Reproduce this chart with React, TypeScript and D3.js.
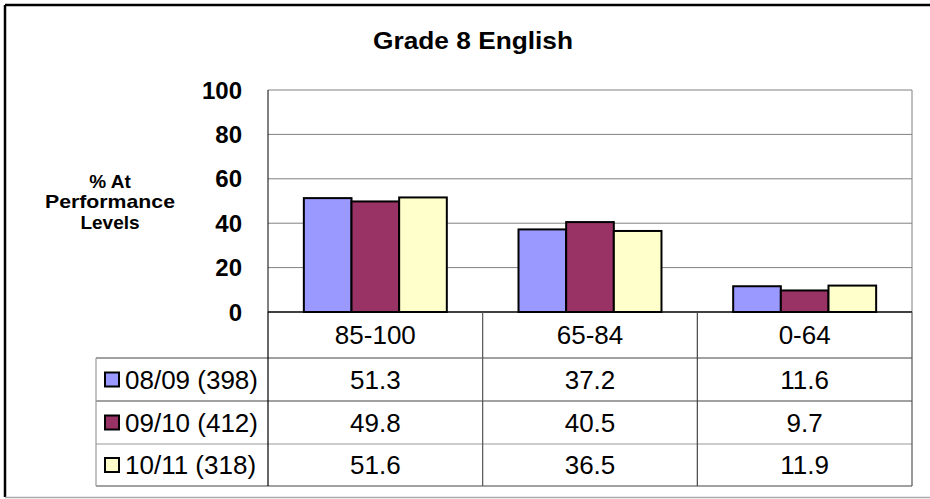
import * as d3 from 'd3'

// data
const categories = ['85-100', '65-84', '0-64']
const seriesNames = ['08/09 (398)', '09/10 (412)', '10/11 (318)']
const s0809 = [51.3, 37.2, 11.6]
const s0910 = [49.8, 40.5, 9.7]
const s1011 = [51.6, 36.5, 11.9]
const yTicks = [0, 20, 40, 60, 80, 100]
const colors = ['#9999ff', '#993366', '#ffffcc']

const W = 930
const H = 499
const font = 'Liberation Sans, Arial, sans-serif'

export default function App() {
  const series = [s0809, s0910, s1011]
  const plot = { left: 268, right: 912, top: 90, bottom: 312 }
  const rowH = [312, 358, 401, 444, 486]
  const tableLeft = 96

  const x0 = d3.scaleBand<string>().domain(categories).range([plot.left, plot.right]).padding(0)
  const bw = x0.bandwidth()
  const x1 = d3
    .scaleBand<string>()
    .domain(seriesNames)
    .range([bw * 0.167, bw * 0.833])
    .padding(0)
  const y = d3.scaleLinear().domain([0, 100]).range([plot.bottom, plot.top])

  return (
    <svg
      width={W}
      height={H}
      style={{ position: 'absolute', left: 0, top: 0, background: '#fff' }}
      fontFamily={font}
    >
      <rect x={0} y={0} width={W} height={H} fill="#fff" />
      {/* outer frame */}
      <line x1={5} y1={5} x2={930} y2={5} stroke="#000" strokeWidth={2.5} />
      <line x1={5} y1={5} x2={5} y2={497} stroke="#000" strokeWidth={2.5} />
      <line x1={5} y1={497.5} x2={930} y2={497.5} stroke="#aaa" strokeWidth={1.5} />

      <text x={473} y={49} textAnchor="middle" fontSize={24} fontWeight="bold" textLength={200} lengthAdjust="spacingAndGlyphs">
        Grade 8 English
      </text>

      {/* axis title */}
      <text x={110} y={188} textAnchor="middle" fontSize={19} fontWeight="bold">
        % At
      </text>
      <text x={110} y={208} textAnchor="middle" fontSize={19} fontWeight="bold" textLength={130} lengthAdjust="spacingAndGlyphs">
        Performance
      </text>
      <text x={110} y={229} textAnchor="middle" fontSize={19} fontWeight="bold">
        Levels
      </text>

      {/* grid + ticks */}
      {yTicks.map((t) => (
        <g key={t}>
          {t > 0 && (
            <line x1={plot.left} x2={plot.right} y1={y(t)} y2={y(t)} stroke="#808080" strokeWidth={1} />
          )}
          <text x={242} y={y(t)} dy="0.36em" textAnchor="end" fontSize={24} fontWeight="bold">
            {t}
          </text>
        </g>
      ))}
      <line x1={plot.right} x2={plot.right} y1={plot.top} y2={plot.bottom} stroke="#808080" />
      <line x1={plot.left} x2={plot.left} y1={plot.top} y2={plot.bottom} stroke="#000" />

      {/* bars */}
      {categories.map((c, ci) =>
        seriesNames.map((s, si) => {
          const v = series[si][ci]
          return (
            <rect
              key={c + s}
              x={(x0(c) ?? 0) + (x1(s) ?? 0)}
              y={y(v)}
              width={x1.bandwidth()}
              height={y(0) - y(v)}
              fill={colors[si]}
              stroke="#000"
              strokeWidth={2}
            />
          )
        })
      )}
      <line x1={plot.left} x2={plot.right} y1={plot.bottom} y2={plot.bottom} stroke="#000" strokeWidth={1.5} />

      {/* data table */}
      {rowH.slice(1).map((ry, i) => (
        <line
          key={'h' + i}
          x1={tableLeft}
          x2={plot.right}
          y1={ry}
          y2={ry}
          stroke={i === 2 ? '#999' : '#444'}
          strokeWidth={1.2}
        />
      ))}
      <line x1={tableLeft} x2={tableLeft} y1={rowH[1]} y2={rowH[4]} stroke="#999" strokeWidth={1.2} />
      <line x1={plot.left} x2={plot.left} y1={plot.bottom} y2={rowH[4]} stroke="#000" strokeWidth={1.2} />
      {categories.map((c, ci) => (
        <line
          key={'v' + c}
          x1={(x0(c) ?? 0) + bw}
          x2={(x0(c) ?? 0) + bw}
          y1={plot.bottom}
          y2={rowH[4]}
          stroke={ci === 1 ? '#444' : '#555'}
          strokeWidth={1.2}
        />
      ))}
      {categories.map((c) => (
        <text
          key={'c' + c}
          x={(x0(c) ?? 0) + bw / 2}
          y={(rowH[0] + rowH[1]) / 2}
          dy="0.36em"
          textAnchor="middle"
          fontSize={26}
        >
          {c}
        </text>
      ))}
      {seriesNames.map((s, si) => {
        const cy = (rowH[si + 1] + rowH[si + 2]) / 2
        return (
          <g key={'r' + s}>
            <rect x={105} y={cy - 7} width={14} height={14} fill={colors[si]} stroke="#000" strokeWidth={2} />
            <text x={125} y={cy} dy="0.36em" fontSize={26}>
              {s}
            </text>
            {categories.map((c, ci) => (
              <text
                key={c}
                x={(x0(c) ?? 0) + bw / 2}
                y={cy}
                dy="0.36em"
                textAnchor="middle"
                fontSize={26}
              >
                {series[si][ci].toFixed(1)}
              </text>
            ))}
          </g>
        )
      })}
    </svg>
  )
}
